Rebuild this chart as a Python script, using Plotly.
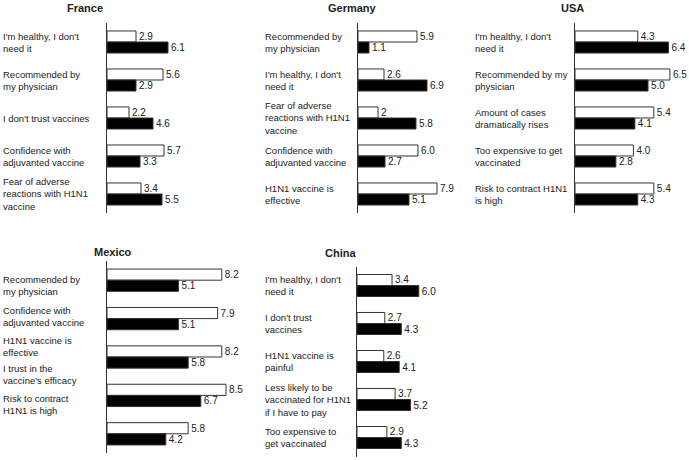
import plotly.graph_objects as go

W, H = 689, 460

# ---------------- data ----------------
france_labels = ["I'm healthy, I don't<br>need it", "Recommended by<br>my physician",
                 "I don't trust vaccines", "Confidence with<br>adjuvanted vaccine",
                 "Fear of adverse<br>reactions with H1N1<br>vaccine"]
france_white = [2.9, 5.6, 2.2, 5.7, 3.4]
france_black = [6.1, 2.9, 4.6, 3.3, 5.5]

germany_labels = ["Recommended by<br>my physician", "I'm healthy, I don't<br>need it",
                  "Fear of adverse<br>reactions with H1N1<br>vaccine",
                  "Confidence with<br>adjuvanted vaccine", "H1N1 vaccine is<br>effective"]
germany_white = [5.9, 2.6, 2, 6.0, 7.9]
germany_black = [1.1, 6.9, 5.8, 2.7, 5.1]

usa_labels = ["I'm healthy, I don't<br>need it", "Recommended by my<br>physician",
              "Amount of cases<br>dramatically rises", "Too expensive to get<br>vaccinated",
              "Risk to contract H1N1<br>is high"]
usa_white = [4.3, 6.5, 5.4, 4.0, 5.4]
usa_black = [6.4, 5.0, 4.1, 2.8, 4.3]

mexico_labels = ["Recommended by<br>my physician", "Confidence with<br>adjuvanted vaccine",
                 "H1N1 vaccine is<br>effective", "I trust in the<br>vaccine's efficacy",
                 "Risk to contract<br>H1N1 is high"]
mexico_white = [8.2, 7.9, 8.2, 8.5, 5.8]
mexico_black = [5.1, 5.1, 5.8, 6.7, 4.2]
mexico_label_pos = [0.13, 0.94, 1.72, 2.45, 3.23]

china_labels = ["I'm healthy, I don't<br>need it", "I don't trust<br>vaccines",
                "H1N1 vaccine is<br>painful",
                "Less likely to be<br>vaccinated for H1N1<br>if I have to pay",
                "Too expensive to<br>get vaccinated"]
china_white = [3.4, 2.7, 2.6, 3.7, 2.9]
china_black = [6.0, 4.3, 4.1, 5.2, 4.3]

# ---------------- layout geometry (pixels) ----------------
panels = [
    dict(name="France", labels=france_labels, white=france_white, black=france_black, lpos=None,
         ax=107, scale=10.0, pw=100, y0=23, y1=213, lx=1, tx=85, ty=8),
    dict(name="Germany", labels=germany_labels, white=germany_white, black=germany_black, lpos=None,
         ax=358, scale=10.0, pw=100, y0=23, y1=213, lx=263, tx=352, ty=8),
    dict(name="USA", labels=usa_labels, white=usa_white, black=usa_black, lpos=None,
         ax=575, scale=14.6, pw=114, y0=23, y1=213, lx=473, tx=572, ty=8),
    dict(name="Mexico", labels=mexico_labels, white=mexico_white, black=mexico_black,
         lpos=mexico_label_pos, ax=107, scale=14.0, pw=140, y0=261, y1=453, lx=1, tx=113, ty=252),
    dict(name="China", labels=china_labels, white=china_white, black=china_black, lpos=None,
         ax=357, scale=10.3, pw=103, y0=266.5, y1=456.5, lx=263, tx=340, ty=253),
]

FONT = "Liberation Sans, Arial, sans-serif"
TXT = "#222222"


def fmt(v):
    return str(v) if isinstance(v, int) else f"{v:.1f}"


fig = go.Figure()
annotations = []
layout = {}

for i, p in enumerate(panels):
    k = "" if i == 0 else str(i + 1)
    xa, ya = "x" + k, "y" + k
    n = len(p["white"])
    pos = list(range(n))
    for vals, fill in ((p["white"], "white"), (p["black"], "black")):
        fig.add_trace(go.Bar(
            x=vals, y=pos, orientation="h", xaxis=xa, yaxis=ya,
            marker=dict(color=fill, line=dict(color="#333333", width=1)),
            text=[fmt(v) for v in vals], textposition="outside",
            textfont=dict(family=FONT, size=10, color=TXT),
            cliponaxis=False, constraintext="none", showlegend=False,
            hoverinfo="skip",
        ))
    layout["xaxis" + k] = dict(
        domain=[p["ax"] / W, (p["ax"] + p["pw"]) / W], range=[0, p["pw"] / p["scale"]],
        anchor=ya, visible=False, fixedrange=True,
    )
    layout["yaxis" + k] = dict(
        domain=[1 - p["y1"] / H, 1 - p["y0"] / H], range=[n - 0.5, -0.5],
        anchor=xa, showline=True, linecolor="#333333", linewidth=1.2,
        showticklabels=False, showgrid=False, zeroline=False, ticks="", fixedrange=True,
    )
    lpos = p["lpos"] if p["lpos"] is not None else pos
    for lab, yv in zip(p["labels"], lpos):
        annotations.append(dict(
            text=lab, xref="paper", x=p["lx"] / W, xanchor="left",
            yref=ya, y=yv, yanchor="middle", align="left", showarrow=False,
            font=dict(family=FONT, size=9.5, color=TXT),
        ))
    annotations.append(dict(
        text="<b>" + p["name"] + "</b>", xref="paper", x=p["tx"] / W, xanchor="center",
        yref="paper", y=1 - p["ty"] / H, yanchor="middle", showarrow=False,
        font=dict(family=FONT, size=11, color=TXT),
    ))

fig.update_layout(
    width=W, height=H, margin=dict(l=0, r=0, t=0, b=0),
    paper_bgcolor="white", plot_bgcolor="white",
    barmode="group", bargap=0.42, bargroupgap=0,
    annotations=annotations, showlegend=False,
    **layout,
)

fig.write_html("out.html", config={"displayModeBar": False},
               post_script="document.body.style.margin='0';")
